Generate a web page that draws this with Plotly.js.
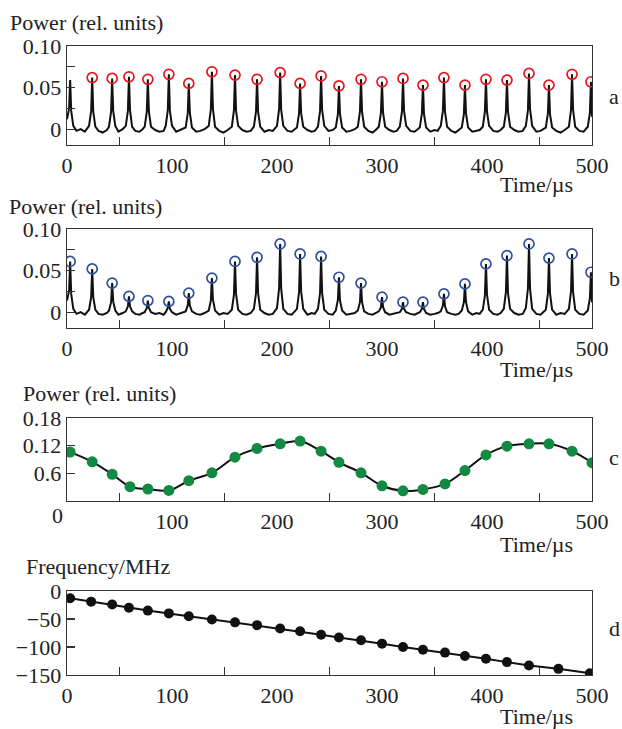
<!DOCTYPE html>
<html>
<head>
<meta charset="utf-8">
<script src="https://cdn.plot.ly/plotly-3.0.1.min.js"></script>
<style>html,body{margin:0;padding:0;background:#fff;}#chart{width:622px;height:729px;}</style>
</head>
<body>
<div id="chart"></div>
<script>
// ---- Data ----
// shared time base of the recorded power traces (panels a and b), µs
const traceT = [
  0, 2, 3, 4, 6, 9, 13, 17,
  21, 23, 24, 25, 27, 30, 34, 38,
  40, 42, 43, 44, 46, 49, 53,
  56, 58, 59, 60, 62, 65, 69, 72,
  74, 76, 77, 78, 80, 84, 88, 92,
  94, 96, 97, 98, 100, 104, 108,
  113, 115, 116, 117, 119, 123, 127, 131,
  135, 137, 138, 139, 141, 145, 149, 153,
  157, 159, 160, 161, 163, 167, 171, 175,
  178, 180, 181, 182, 184, 188, 192, 196,
  200, 202, 203, 204, 206, 210, 214,
  219, 221, 222, 223, 225, 229, 233, 236,
  239, 241, 242, 243, 245, 249, 253,
  256, 258, 259, 260, 262, 266, 270, 274,
  277, 279, 280, 281, 283, 287, 291, 294,
  297, 299, 300, 301, 303, 307, 311, 314,
  317, 319, 320, 321, 323, 327, 331,
  336, 338, 339, 340, 342, 346, 350, 353,
  356, 358, 359, 360, 362, 366, 370, 373,
  376, 378, 379, 380, 382, 386, 390, 393,
  396, 398, 399, 400, 402, 406, 410, 413,
  416, 418, 419, 420, 422, 426, 430, 434,
  437, 439, 440, 441, 443, 447, 451,
  456, 458, 459, 460, 462, 466, 470, 474,
  478, 480, 481, 482, 484, 488, 492,
  496, 498, 499, 500
];
// panel a: power trace (rel. units)
const aTrace = [
  0.012, 0.025, 0.059, 0.022, 0.004, -0.002, 0.000, -0.003,
  0.004, 0.022, 0.062, 0.021, 0.003, -0.002, -0.004, -0.001,
  0.003, 0.021, 0.061, 0.022, 0.004, -0.003, 0.000,
  0.004, 0.022, 0.063, 0.023, 0.003, -0.002, -0.003, 0.000,
  0.003, 0.021, 0.060, 0.021, 0.003, -0.001, -0.003, -0.002,
  0.004, 0.023, 0.066, 0.022, 0.004, -0.003, -0.001,
  0.002, 0.019, 0.055, 0.020, 0.002, -0.003, -0.002, 0.000,
  0.004, 0.024, 0.069, 0.024, 0.003, -0.002, -0.004, -0.001,
  0.003, 0.023, 0.065, 0.022, 0.004, -0.001, -0.003, -0.002,
  0.003, 0.021, 0.060, 0.021, 0.003, -0.003, -0.001, -0.002,
  0.004, 0.024, 0.068, 0.023, 0.004, -0.002, -0.003,
  0.002, 0.019, 0.055, 0.019, 0.003, -0.001, -0.003, -0.002,
  0.003, 0.022, 0.064, 0.023, 0.004, -0.002, -0.001,
  0.002, 0.018, 0.052, 0.018, 0.002, -0.003, -0.002, 0.000,
  0.003, 0.021, 0.060, 0.021, 0.003, -0.002, -0.004, -0.001,
  0.003, 0.020, 0.057, 0.020, 0.003, -0.001, -0.003, -0.002,
  0.003, 0.021, 0.061, 0.022, 0.004, -0.002, -0.003,
  0.002, 0.019, 0.053, 0.018, 0.002, -0.003, -0.001, -0.002,
  0.004, 0.022, 0.062, 0.021, 0.003, -0.002, -0.004, -0.001,
  0.002, 0.018, 0.053, 0.019, 0.002, -0.003, -0.002, -0.001,
  0.003, 0.021, 0.060, 0.021, 0.004, -0.002, -0.003, -0.001,
  0.003, 0.020, 0.059, 0.021, 0.003, -0.001, -0.003, -0.002,
  0.004, 0.023, 0.067, 0.024, 0.004, -0.003, -0.002,
  0.002, 0.019, 0.053, 0.018, 0.002, -0.002, -0.004, -0.001,
  0.003, 0.023, 0.066, 0.023, 0.003, -0.002, -0.003,
  0.003, 0.020, 0.057, 0.015
];
// panel b: power trace (rel. units)
const bTrace = [
  0.014, 0.026, 0.061, 0.022, 0.004, -0.002, 0.000, -0.003,
  0.003, 0.018, 0.052, 0.018, 0.003, -0.002, -0.003, -0.001,
  0.002, 0.012, 0.035, 0.013, 0.002, -0.003, -0.001,
  0.001, 0.007, 0.019, 0.007, 0.001, -0.002, -0.003, -0.001,
  0.000, 0.005, 0.014, 0.005, 0.000, -0.002, -0.001, -0.003,
  0.000, 0.005, 0.013, 0.004, 0.000, -0.003, -0.001,
  0.001, 0.008, 0.023, 0.008, 0.001, -0.002, -0.003, -0.001,
  0.002, 0.014, 0.041, 0.015, 0.002, -0.003, -0.001, -0.002,
  0.003, 0.021, 0.061, 0.022, 0.003, -0.002, -0.003, -0.001,
  0.004, 0.023, 0.066, 0.023, 0.003, -0.001, -0.003, -0.002,
  0.005, 0.029, 0.082, 0.028, 0.004, -0.002, -0.003,
  0.004, 0.024, 0.070, 0.025, 0.004, -0.003, -0.001, -0.002,
  0.004, 0.023, 0.067, 0.023, 0.003, -0.002, -0.003,
  0.002, 0.015, 0.042, 0.014, 0.002, -0.003, -0.002, -0.001,
  0.002, 0.012, 0.035, 0.012, 0.001, -0.002, -0.003, -0.001,
  0.001, 0.006, 0.018, 0.006, 0.000, -0.003, -0.002, -0.001,
  0.000, 0.004, 0.012, 0.004, 0.000, -0.002, -0.003,
  0.000, 0.004, 0.012, 0.004, -0.001, -0.003, -0.002, -0.001,
  0.001, 0.008, 0.022, 0.007, 0.000, -0.002, -0.003, -0.002,
  0.002, 0.012, 0.034, 0.012, 0.001, -0.003, -0.001, -0.002,
  0.003, 0.020, 0.058, 0.021, 0.003, -0.002, -0.003, -0.001,
  0.004, 0.024, 0.068, 0.023, 0.004, -0.001, -0.003, -0.002,
  0.005, 0.029, 0.082, 0.028, 0.004, -0.002, -0.003,
  0.003, 0.022, 0.065, 0.023, 0.003, -0.003, -0.001, -0.002,
  0.004, 0.025, 0.070, 0.024, 0.003, -0.002, -0.003,
  0.002, 0.017, 0.048, 0.012
];
// panel a: marked peaks (red circles)
const aPeakT = [24, 43, 59, 77, 97, 116, 138, 160, 181, 203, 222, 242, 259, 280, 300, 320, 339, 359, 379, 399, 419, 440, 459, 481, 499];
const aPeakP = [0.062, 0.061, 0.063, 0.060, 0.066, 0.055, 0.069, 0.065, 0.060, 0.068, 0.055, 0.064, 0.052, 0.060, 0.057, 0.061, 0.053, 0.062, 0.053, 0.060, 0.059, 0.067, 0.053, 0.066, 0.057];
// panel b: marked peaks (blue circles)
const bPeakT = [3, 24, 43, 59, 77, 97, 116, 138, 160, 181, 203, 222, 242, 259, 280, 300, 320, 339, 359, 379, 399, 419, 440, 459, 481, 499];
const bPeakP = [0.061, 0.052, 0.035, 0.019, 0.014, 0.013, 0.023, 0.041, 0.061, 0.066, 0.082, 0.070, 0.067, 0.042, 0.035, 0.018, 0.012, 0.012, 0.022, 0.034, 0.058, 0.068, 0.082, 0.065, 0.070, 0.048];
// panel c: extracted power (green dots)
const cT = [3, 24, 43, 60, 77, 97, 116, 138, 160, 181, 203, 222, 242, 259, 280, 300, 320, 339, 360, 379, 399, 419, 440, 459, 481, 500];
const cP = [0.106, 0.085, 0.058, 0.031, 0.026, 0.023, 0.044, 0.061, 0.095, 0.114, 0.124, 0.130, 0.108, 0.084, 0.061, 0.033, 0.022, 0.025, 0.037, 0.066, 0.100, 0.119, 0.124, 0.124, 0.108, 0.083];
// panel d: frequency (black dots)
const dT = [3, 23, 43, 59, 77, 97, 116, 138, 160, 181, 203, 222, 242, 259, 280, 300, 320, 339, 360, 379, 399, 419, 440, 468, 498];
const dF = [-13, -19, -24, -30, -35, -40, -45, -51, -56, -61, -67, -72, -78, -83, -88, -94, -100, -105, -110, -116, -121, -127, -133, -139, -147];
// tick labels
const xTickVals = [0, 100, 200, 300, 400, 500];
const xTickText = ['0', '100', '200', '300', '400', '500'];
const xMinorVals = [50, 150, 250, 350, 450];
const abTickVals = [0, 0.05, 0.10];
const abTickText = ['0', '0.05', '0.10'];
const abMinorVals = [0.025, 0.075];
const cTickVals = [0.06, 0.12, 0.18];
const cTickText = ['0.6', '0.12', '0.18'];
const dTickVals = [-150, -100, -50, 0];
const dTickText = ['\u2212150', '\u2212100', '\u221250', '0'];

// ---- Layout helpers ----
const W = 622, H = 729;
const FONT = 'Liberation Serif, Times New Roman, serif';
const INK = '#222';
const FRAME = '#333';
const px = x => x / W;
const py = y => 1 - y / H;

function xAxis(anchor, labels) {
  return {
    domain: [px(67), px(592)], anchor: anchor, range: [0, 500],
    showline: true, mirror: true, linecolor: FRAME, linewidth: 1.4,
    showgrid: false, zeroline: false,
    tickmode: 'array', tickvals: labels ? xTickVals : xTickVals.slice(1),
    ticktext: labels ? xTickText : xTickText.slice(1),
    ticks: '', tickfont: {family: FONT, size: 22, color: INK},
    minor: {tickmode: 'array', tickvals: xMinorVals, ticks: 'inside', ticklen: 8, tickwidth: 1.3, tickcolor: FRAME, showgrid: false}
  };
}
function yAxis(top, bottom, anchor, range, tv, tt, minorVals) {
  const ax = {
    domain: [py(bottom), py(top)], anchor: anchor, range: range,
    showline: true, mirror: true, linecolor: FRAME, linewidth: 1.4,
    showgrid: false, zeroline: false,
    tickmode: 'array', tickvals: tv, ticktext: tt,
    ticks: 'inside', ticklen: 8, tickwidth: 1.3, tickcolor: FRAME,
    tickfont: {family: FONT, size: 22, color: INK}
  };
  if (minorVals) ax.minor = {tickmode: 'array', tickvals: minorVals, ticks: 'inside', ticklen: 8, tickwidth: 1.3, tickcolor: FRAME, showgrid: false};
  return ax;
}

const traces = [
  {x: traceT, y: aTrace, xaxis: 'x', yaxis: 'y', mode: 'lines', line: {color: '#111', width: 2}, hoverinfo: 'skip'},
  {x: aPeakT, y: aPeakP, xaxis: 'x', yaxis: 'y', mode: 'markers', marker: {symbol: 'circle-open', size: 10, color: '#e8141c', line: {width: 1.7, color: '#e8141c'}}},
  {x: traceT, y: bTrace, xaxis: 'x2', yaxis: 'y2', mode: 'lines', line: {color: '#111', width: 2}, hoverinfo: 'skip'},
  {x: bPeakT, y: bPeakP, xaxis: 'x2', yaxis: 'y2', mode: 'markers', marker: {symbol: 'circle-open', size: 10, color: '#2f4fa0', line: {width: 1.7, color: '#2f4fa0'}}},
  {x: cT, y: cP, xaxis: 'x3', yaxis: 'y3', mode: 'lines', line: {color: '#111', width: 2, shape: 'spline', smoothing: 1}},
  {x: cT, y: cP, xaxis: 'x3', yaxis: 'y3', mode: 'markers', marker: {symbol: 'circle', size: 11, color: '#138a44'}},
  {x: dT, y: dF, xaxis: 'x4', yaxis: 'y4', mode: 'lines+markers', line: {color: '#111', width: 2}, marker: {symbol: 'circle', size: 10, color: '#111'}}
];

function ann(text, x, y, xanchor, yanchor) {
  return {text: text, x: px(x), y: py(y), xref: 'paper', yref: 'paper', xanchor: xanchor, yanchor: yanchor,
    showarrow: false, font: {family: FONT, size: 22, color: INK}, borderpad: 0};
}

const layout = {
  width: W, height: H,
  margin: {l: 0, r: 0, t: 0, b: 0, pad: 0},
  paper_bgcolor: '#fff', plot_bgcolor: '#fff',
  showlegend: false,
  xaxis: xAxis('y', true),
  yaxis: yAxis(46, 145, 'x', [-0.019, 0.10], abTickVals, abTickText, abMinorVals),
  xaxis2: xAxis('y2', true),
  yaxis2: yAxis(229, 328, 'x2', [-0.019, 0.10], abTickVals, abTickText, abMinorVals),
  xaxis3: xAxis('y3', false),
  yaxis3: yAxis(418, 501, 'x3', [0, 0.18], cTickVals, cTickText, null),
  xaxis4: xAxis('y4', true),
  yaxis4: yAxis(591, 675, 'x4', [-150, 0], dTickVals, dTickText, null),
  annotations: [
    ann('Power (rel. units)', 9, 22, 'left', 'middle'),
    ann('Power (rel. units)', 8, 207, 'left', 'middle'),
    ann('Power (rel. units)', 22, 393, 'left', 'middle'),
    ann('Frequency/MHz', 25, 566, 'left', 'middle'),
    ann('Time/\u00b5s', 499, 184, 'left', 'middle'),
    ann('Time/\u00b5s', 499, 369, 'left', 'middle'),
    ann('Time/\u00b5s', 499, 544, 'left', 'middle'),
    ann('Time/\u00b5s', 499, 716, 'left', 'middle'),
    ann('a', 614, 96, 'center', 'middle'),
    ann('b', 614, 278, 'center', 'middle'),
    ann('c', 614, 457, 'center', 'middle'),
    ann('d', 614, 628, 'center', 'middle'),
    ann('0', 57, 515, 'center', 'middle')
  ]
};

Plotly.newPlot('chart', traces, layout, {staticPlot: true, displayModeBar: false});
</script>
</body>
</html>
